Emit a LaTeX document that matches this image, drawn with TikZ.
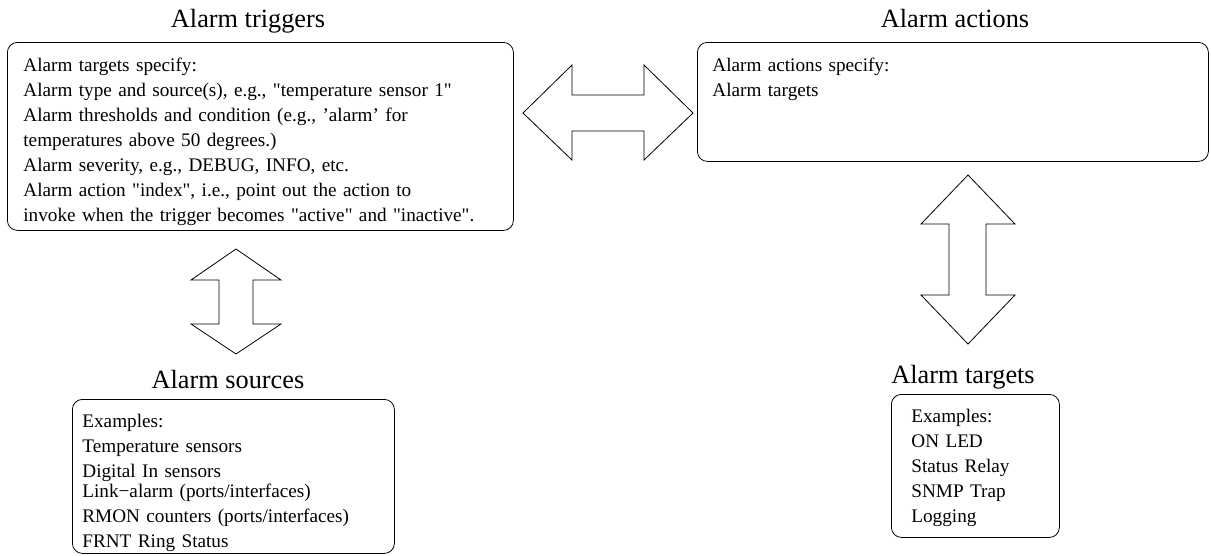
\documentclass[tikz,border=0pt]{standalone}
\usepackage{fontspec}
\setmainfont{Liberation Serif}
\usepackage{tikz}
\usetikzlibrary{positioning}

\newcommand{\boxfont}{\fontsize{19.2}{25}\selectfont}
\newcommand{\headfont}{\fontsize{26.3}{30}\selectfont}
\newcommand{\dq}{\textquotedbl}

\tikzset{
  infobox/.style={draw, rounded corners=10pt, anchor=north west, align=left,
    inner ysep=0pt, line width=0.8pt, font=\boxfont},
  headline/.style={anchor=base, inner sep=0pt, font=\headfont},
  fatarrow/.style={draw, line width=0.8pt, line join=miter}
}

\begin{document}
\begin{tikzpicture}[x=1pt, y=-1pt]
    \useasboundingbox (0,0) rectangle (1211,555);

    % Các hộp chính
    \node[infobox, inner xsep=16pt, text width=474pt, text height=29pt, text depth=159pt]
        (trig) at (7,42) {Alarm targets specify:\\
        Alarm type and source(s), e.g., \dq temperature sensor 1\dq\\
        Alarm thresholds and condition (e.g., 'alarm' for\\
        temperatures above 50 degrees.)\\
        Alarm severity, e.g., DEBUG, INFO, etc.\\
        Alarm action \dq index\dq, i.e., point out the action to\\
        invoke when the trigger becomes \dq active\dq{} and \dq inactive\dq.};
    \node[infobox, inner xsep=15pt, text width=481pt, text height=29pt, text depth=90pt]
        (act) at (697,42) {Alarm actions specify:\\
        Alarm targets};
    \node[infobox, inner xsep=10pt, text width=302pt, text height=28pt, text depth=126pt]
        (src) at (72,399) {Examples:\\
        Temperature sensors\\
        Digital In sensors\\[-5pt]
        Link−alarm (ports/interfaces)\\
        RMON counters (ports/interfaces)\\
        FRNT Ring Status};
    \node[infobox, inner xsep=20pt, text width=128pt, text height=28pt, text depth=115pt]
        (tgt) at (891,394) {Examples:\\
        ON LED\\
        Status Relay\\
        SNMP Trap\\
        Logging};

    % Tiêu đề
    \node[headline] (trigtitle) at (248,27) {Alarm triggers};
    \node[headline] (acttitle) at (955,27) {Alarm actions};
    \node[headline] (srctitle) at (228,388) {Alarm sources};
    \node[headline] (tgttitle) at (963,383) {Alarm targets};

    % Mũi tên hai chiều
    \draw[fatarrow] (523,113) -- (572,65) -- (572,95) -- (644,95) -- (644,65)
        -- (693,113) -- (644,160) -- (644,131) -- (572,131) -- (572,160) -- cycle;
    \draw[fatarrow] (236,249) -- (281,280) -- (253,280) -- (253,324) -- (281,324)
        -- (236,354) -- (191,324) -- (219,324) -- (219,280) -- (191,280) -- cycle;
    \draw[fatarrow] (968,175) -- (1015,224) -- (986,224) -- (986,295) -- (1015,295)
        -- (968,344) -- (921,295) -- (949,295) -- (949,224) -- (921,224) -- cycle;

\end{tikzpicture}
\end{document}
